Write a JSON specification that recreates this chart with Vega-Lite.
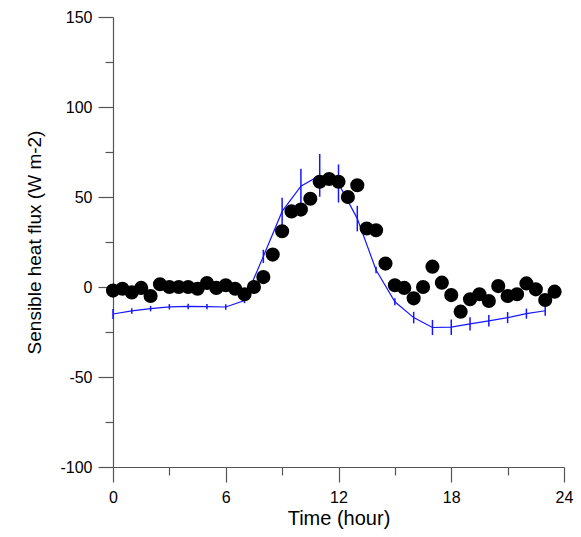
{
  "$schema": "https://vega.github.io/schema/vega-lite/v6.json",
  "width": 451,
  "height": 450,
  "autosize": {"type": "none"},
  "padding": {"left": 113, "top": 17, "right": 17, "bottom": 70},
  "background": "white",
  "config": {
    "view": {"stroke": null},
    "font": "Liberation Sans",
    "axis": {
      "grid": false,
      "domainColor": "#555555",
      "domainWidth": 1.2,
      "tickColor": "#555555",
      "tickWidth": 1.2,
      "labelFont": "Liberation Sans",
      "labelFontSize": 16,
      "labelColor": "#000000",
      "labelFlush": false,
      "labelOverlap": false,
      "titleFont": "Liberation Sans",
      "titleFontSize": 19,
      "titleFontWeight": "normal",
      "titleColor": "#000000"
    }
  },
  "datasets": {
    "obs": [
      {"time": 0, "flux": -2}, {"time": 0.5, "flux": -1}, {"time": 1, "flux": -3},
      {"time": 1.5, "flux": -0.5}, {"time": 2, "flux": -5}, {"time": 2.5, "flux": 1.5},
      {"time": 3, "flux": 0}, {"time": 3.5, "flux": 0}, {"time": 4, "flux": 0},
      {"time": 4.5, "flux": -1}, {"time": 5, "flux": 2.2}, {"time": 5.5, "flux": -0.5},
      {"time": 6, "flux": 1}, {"time": 6.5, "flux": -1}, {"time": 7, "flux": -4},
      {"time": 7.5, "flux": 0}, {"time": 8, "flux": 5.5}, {"time": 8.5, "flux": 18},
      {"time": 9, "flux": 31}, {"time": 9.5, "flux": 42}, {"time": 10, "flux": 43},
      {"time": 10.5, "flux": 49}, {"time": 11, "flux": 58.5}, {"time": 11.5, "flux": 60},
      {"time": 12, "flux": 58.5}, {"time": 12.5, "flux": 50}, {"time": 13, "flux": 56.5},
      {"time": 13.5, "flux": 32.5}, {"time": 14, "flux": 31.5}, {"time": 14.5, "flux": 13},
      {"time": 15, "flux": 1}, {"time": 15.5, "flux": -0.5}, {"time": 16, "flux": -6.3},
      {"time": 16.5, "flux": 0}, {"time": 17, "flux": 11.3}, {"time": 17.5, "flux": 2.4},
      {"time": 18, "flux": -4.5}, {"time": 18.5, "flux": -13.7}, {"time": 19, "flux": -6.8},
      {"time": 19.5, "flux": -4}, {"time": 20, "flux": -7.8}, {"time": 20.5, "flux": 0.5},
      {"time": 21, "flux": -5}, {"time": 21.5, "flux": -4}, {"time": 22, "flux": 2},
      {"time": 22.5, "flux": -1.3}, {"time": 23, "flux": -7.2}, {"time": 23.5, "flux": -2.6}
    ],
    "wrf": [
      {"time": 0, "flux": -15, "err": 2.8}, {"time": 1, "flux": -13.3, "err": 1.5},
      {"time": 2, "flux": -12, "err": 1.5}, {"time": 3, "flux": -11, "err": 1.5},
      {"time": 4, "flux": -10.8, "err": 1.5}, {"time": 5, "flux": -10.9, "err": 1.5},
      {"time": 6, "flux": -11.1, "err": 1.5}, {"time": 7, "flux": -7.5, "err": 1.5},
      {"time": 8, "flux": 17, "err": 3.7}, {"time": 9, "flux": 42, "err": 7.6},
      {"time": 10, "flux": 56, "err": 9.7}, {"time": 11, "flux": 62, "err": 11.9},
      {"time": 12, "flux": 57.5, "err": 10.6}, {"time": 13, "flux": 38, "err": 7.1},
      {"time": 14, "flux": 9.4, "err": 1.8}, {"time": 15, "flux": -8.2, "err": 1.9},
      {"time": 16, "flux": -17, "err": 3.2}, {"time": 17, "flux": -22.5, "err": 4.2},
      {"time": 18, "flux": -22.3, "err": 4.3}, {"time": 19, "flux": -20.5, "err": 3.7},
      {"time": 20, "flux": -18.8, "err": 3.2}, {"time": 21, "flux": -17, "err": 3.1},
      {"time": 22, "flux": -14.8, "err": 2.8}, {"time": 23, "flux": -13.2, "err": 2.8}
    ]
  },
  "encoding": {
    "x": {
      "field": "time",
      "type": "quantitative",
      "scale": {"domain": [0, 24], "nice": false, "zero": false},
      "axis": {
        "title": "Time (hour)",
        "titleFontSize": 20,
        "values": [0, 3, 6, 9, 12, 15, 18, 21, 24],
        "tickSize": {"condition": {"test": "datum.value % 6 === 0", "value": 15}, "value": 8},
        "labelExpr": "datum.value % 6 === 0 ? '' + datum.value : ''",
        "labelPadding": 7,
        "titlePadding": 3
      }
    },
    "y": {
      "field": "flux",
      "type": "quantitative",
      "scale": {"domain": [-100, 150], "nice": false, "zero": false},
      "axis": {
        "title": "Sensible heat flux (W m-2)",
        "values": [-100, -75, -50, -25, 0, 25, 50, 75, 100, 125, 150],
        "tickSize": {"condition": {"test": "datum.value % 50 === 0", "value": 15}, "value": 8},
        "labelExpr": "datum.value % 50 === 0 ? '' + datum.value : ''",
        "labelPadding": 6,
        "titlePadding": 15
      }
    }
  },
  "layer": [
    {
      "data": {"name": "wrf"},
      "mark": {"type": "errorbar", "color": "#1515ff", "thickness": 1.5},
      "encoding": {"yError": {"field": "err"}}
    },
    {
      "data": {"name": "wrf"},
      "mark": {"type": "line", "color": "#1515ff", "strokeWidth": 1.2}
    },
    {
      "data": {"name": "obs"},
      "mark": {"type": "circle", "color": "#000000", "opacity": 1, "size": 200}
    },
    {
      "data": {"values": [{}]},
      "mark": {"type": "text", "text": "UPS WRF", "font": "Liberation Sans", "fontSize": 17, "color": "#000000", "align": "center", "baseline": "middle"},
      "encoding": {
        "x": {"datum": 10.75, "type": "quantitative"},
        "y": {"datum": 128, "type": "quantitative"}
      }
    }
  ]
}
